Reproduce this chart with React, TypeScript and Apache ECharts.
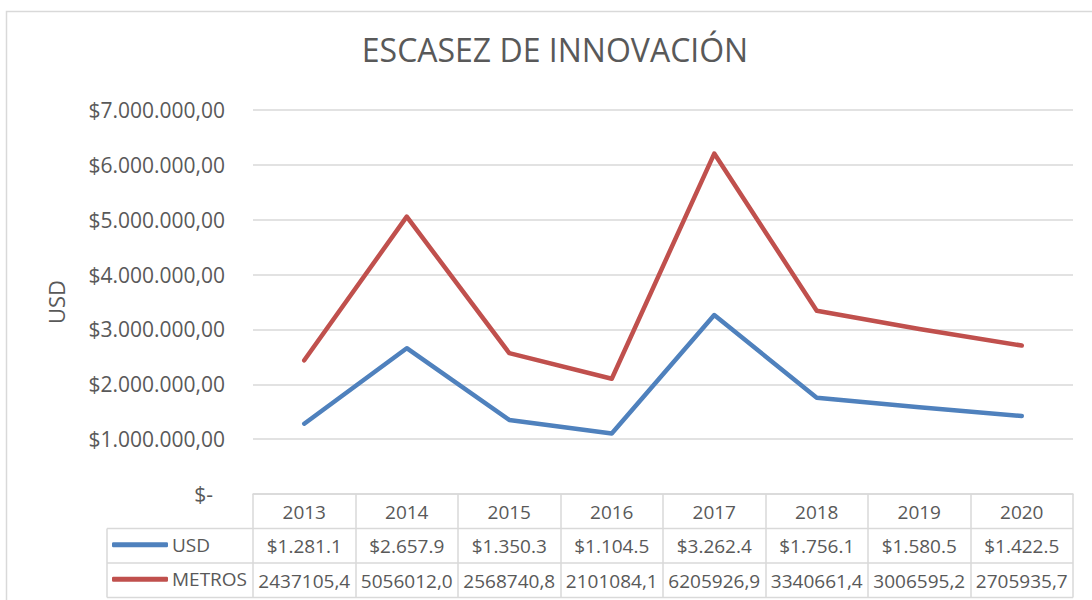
import React, { useEffect, useRef } from "react";
import * as echarts from "echarts";

const years = ["2013", "2014", "2015", "2016", "2017", "2018", "2019", "2020"];
const usdValues = [1281100, 2657900, 1350300, 1104500, 3262400, 1756100, 1580500, 1422500];
const usdLabels = ["$1.281.1", "$2.657.9", "$1.350.3", "$1.104.5", "$3.262.4", "$1.756.1", "$1.580.5", "$1.422.5"];
const metrosValues = [2437105.4, 5056012.0, 2568740.8, 2101084.1, 6205926.9, 3340661.4, 3006595.2, 2705935.7];
const metrosLabels = ["2437105,4", "5056012,0", "2568740,8", "2101084,1", "6205926,9", "3340661,4", "3006595,2", "2705935,7"];
const seriesNames = ["USD", "METROS"];
const titleText = "ESCASEZ DE INNOVACIÓN";
const yAxisTitle = "USD";

const FONT = "'Open Sans', 'Noto Sans', sans-serif";
const TXT = "#595959";
const GRID = "#d9d9d9";
const BLUE = "#4F81BD";
const RED = "#C0504D";

const fmtY = (v: number) => {
  if (v === 0) return "{z|$-}";
  return "$" + Math.round(v).toString().replace(/\B(?=(\d{3})+(?!\d))/g, ".") + ",00";
};

export default function App() {
  const ref = useRef<HTMLDivElement>(null);
  useEffect(() => {
    if (!ref.current) return;
    const chart = echarts.init(ref.current, null, { renderer: "svg" });
    const gridLeft = 253;
    const gridRight = 19;
    const gridTop = 110;
    const gridBottom = 106;
    const rowH = 34.5;
    const tableTop = 600 - gridBottom;
    const tableLeft = 107;
    const tableRight = 1092 - gridRight;
    const lineStyle = { stroke: GRID, lineWidth: 1.5 };
    chart.setOption({
      animation: false,
      textStyle: { fontFamily: FONT },
      title: {
        text: titleText,
        left: 550,
        top: 28,
        textAlign: "center",
        textStyle: { fontFamily: FONT, fontSize: 32, fontWeight: "normal", color: TXT },
      },
      legend: {
        orient: "vertical",
        left: 112,
        top: tableTop + rowH - 1,
        padding: 0,
        itemGap: 0,
        itemWidth: 56,
        itemHeight: 5,
        icon: "roundRect",
        data: seriesNames,
        textStyle: { fontFamily: FONT, fontSize: 19, color: TXT, lineHeight: rowH, padding: [0, 0, 0, -1] },
      },
      grid: { left: gridLeft, right: gridRight, top: gridTop, bottom: gridBottom, containLabel: false },
      xAxis: [
        {
          type: "category",
          data: years,
          position: "bottom",
          boundaryGap: true,
          axisLine: { show: true, lineStyle: { color: GRID, width: 1.5 } },
          axisTick: { show: true, length: rowH * 3, lineStyle: { color: GRID, width: 1.5 } },
          axisLabel: { margin: 8, fontSize: 19, color: TXT, fontFamily: FONT, interval: 0 },
          splitLine: { show: false },
        },
        {
          type: "category",
          data: usdLabels,
          position: "bottom",
          offset: rowH,
          boundaryGap: true,
          axisLine: { show: false },
          axisTick: { show: false },
          axisLabel: { margin: 8, fontSize: 19, color: TXT, fontFamily: FONT, interval: 0, hideOverlap: false },
        },
        {
          type: "category",
          data: metrosLabels,
          position: "bottom",
          offset: rowH * 2,
          boundaryGap: true,
          axisLine: { show: false },
          axisTick: { show: false },
          axisLabel: { margin: 8, fontSize: 19, color: TXT, fontFamily: FONT, interval: 0, hideOverlap: false },
        },
      ],
      yAxis: {
        type: "value",
        min: 0,
        max: 7000000,
        interval: 1000000,
        name: yAxisTitle,
        nameLocation: "middle",
        nameRotate: 90,
        nameGap: 186,
        nameTextStyle: { fontFamily: FONT, fontSize: 22, color: TXT },
        axisLine: { show: false },
        axisTick: { show: false },
        splitLine: { lineStyle: { color: GRID, width: 1.5 } },
        axisLabel: {
          margin: 28,
          fontSize: 21,
          color: TXT,
          fontFamily: FONT,
          formatter: fmtY,
          rich: { z: { fontSize: 21, color: TXT, fontFamily: FONT, padding: [0, 12, 0, 0] } },
        },
      },
      series: [
        {
          name: seriesNames[0],
          type: "line",
          data: usdValues,
          xAxisIndex: 0,
          showSymbol: false,
          symbol: "none",
          color: BLUE,
          lineStyle: { color: BLUE, width: 4.5, cap: "round", join: "round" },
        },
        {
          name: seriesNames[1],
          type: "line",
          data: metrosValues,
          xAxisIndex: 0,
          showSymbol: false,
          symbol: "none",
          color: RED,
          lineStyle: { color: RED, width: 4.5, cap: "round", join: "round" },
        },
      ],
      graphic: [
        { type: "rect", z: -10, silent: true, shape: { x: 6.5, y: 11.5, width: 1200, height: 700 }, style: { fill: "#fff", stroke: GRID, lineWidth: 1.5 } },
        { type: "line", silent: true, shape: { x1: tableLeft, y1: tableTop + rowH, x2: tableRight, y2: tableTop + rowH }, style: lineStyle },
        { type: "line", silent: true, shape: { x1: tableLeft, y1: tableTop + rowH * 2, x2: tableRight, y2: tableTop + rowH * 2 }, style: lineStyle },
        { type: "line", silent: true, shape: { x1: tableLeft, y1: tableTop + rowH * 3, x2: tableRight, y2: tableTop + rowH * 3 }, style: lineStyle },
        { type: "line", silent: true, shape: { x1: tableLeft, y1: tableTop + rowH, x2: tableLeft, y2: tableTop + rowH * 3 }, style: lineStyle },
      ],
    });
    return () => chart.dispose();
  }, []);
  return <div ref={ref} style={{ position: "absolute", left: 0, top: 0, width: 1092, height: 600, background: "#fff" }} />;
}
